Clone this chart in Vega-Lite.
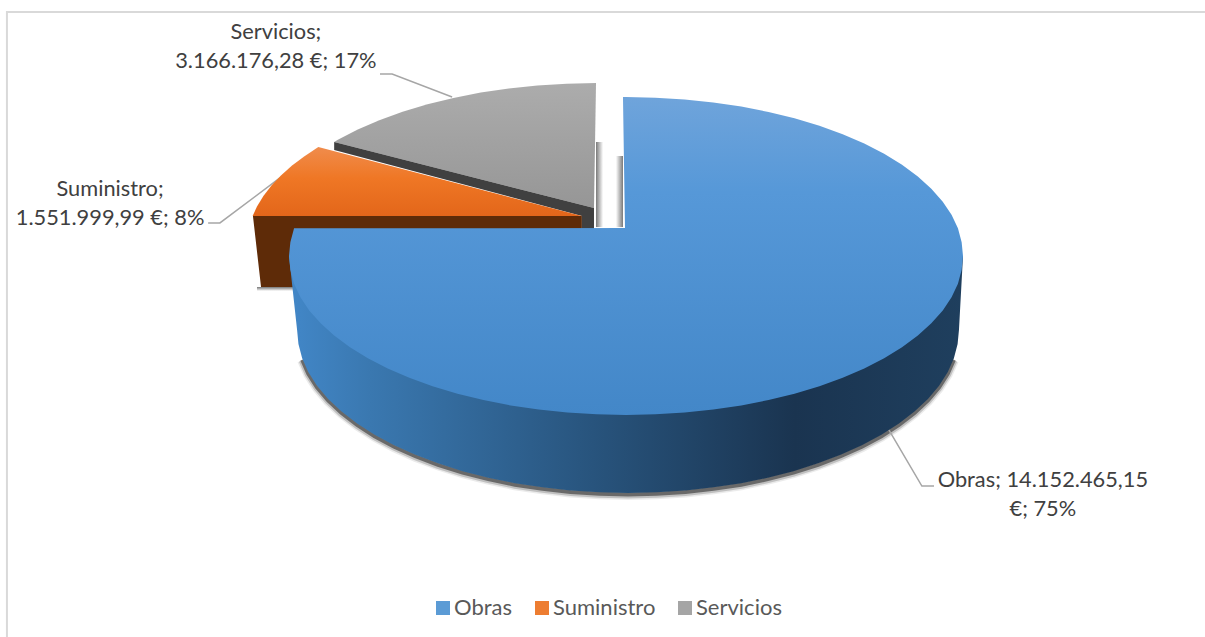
{"$schema":"https://vega.github.io/schema/vega-lite/v6.json","width":1205,"height":637,"autosize":"none","padding":0,"background":"white","config":{"view":{"stroke":null},"font":"Lato"},"datasets":{"cuotas":[{"categoria":"Obras","importe":14152465.15,"pct":75,"label":"Obras; 14.152.465,15\n€; 75%","u":1.237,"v":-1.406},{"categoria":"Suministro","importe":1551999.99,"pct":8,"label":"Suministro;\n1.551.999,99 €; 8%","u":-1.531,"v":0.421},{"categoria":"Servicios","importe":3166176.28,"pct":17,"label":"Servicios;\n3.166.176,28 €; 17%","u":-1.039,"v":1.406}],"contornos":[
{"part":"frame","n":0,"u":-1.837,"v":-2.396},{"part":"frame","n":1,"u":-1.837,"v":1.535},{"part":"frame","n":2,"u":1.718,"v":1.535},
{"part":"lead_serv","n":0,"u":-0.73,"v":1.145},{"part":"lead_serv","n":1,"u":-0.694,"v":1.145},{"part":"lead_serv","n":2,"u":-0.516,"v":1.0},
{"part":"lead_sum","n":0,"u":-1.24,"v":0.208},{"part":"lead_sum","n":1,"u":-1.205,"v":0.208},{"part":"lead_sum","n":2,"u":-1.027,"v":0.491},
{"part":"lead_obras","n":0,"u":0.777,"v":-1.082},{"part":"lead_obras","n":1,"u":0.878,"v":-1.447},{"part":"lead_obras","n":2,"u":0.914,"v":-1.447},
{"part":"shade_gray","n":0,"u":-0.089,"v":0.717},{"part":"shade_gray","n":1,"u":-0.068,"v":0.717},{"part":"shade_gray","n":2,"u":-0.068,"v":0.182},{"part":"shade_gray","n":3,"u":-0.089,"v":0.182},
{"part":"shade_blue","n":0,"u":-0.03,"v":0.629},{"part":"shade_blue","n":1,"u":-0.009,"v":0.629},{"part":"shade_blue","n":2,"u":-0.009,"v":0.182},{"part":"shade_blue","n":3,"u":-0.03,"v":0.182},
{"part":"shade_orange","n":0,"u":-1.095,"v":-0.195},{"part":"shade_orange","n":1,"u":-0.979,"v":-0.195},{"part":"shade_orange","n":2,"u":-0.979,"v":-0.22},{"part":"shade_orange","n":3,"u":-1.095,"v":-0.22},
{"part":"gray_top","n":0,"u":-0.089,"v":1.088},{"part":"gray_top","n":1,"u":-0.176,"v":1.084},{"part":"gray_top","n":2,"u":-0.263,"v":1.073},{"part":"gray_top","n":3,"u":-0.348,"v":1.054},{"part":"gray_top","n":4,"u":-0.431,"v":1.028},{"part":"gray_top","n":5,"u":-0.512,"v":0.994},{"part":"gray_top","n":6,"u":-0.589,"v":0.954},{"part":"gray_top","n":7,"u":-0.663,"v":0.907},{"part":"gray_top","n":8,"u":-0.732,"v":0.854},{"part":"gray_top","n":9,"u":-0.796,"v":0.795},{"part":"gray_top","n":10,"u":-0.855,"v":0.731},{"part":"gray_top","n":11,"u":-0.866,"v":0.717},{"part":"gray_top","n":12,"u":-0.095,"v":0.302},
{"part":"gray_side","n":0,"u":-0.866,"v":0.717},{"part":"gray_side","n":1,"u":-0.095,"v":0.302},{"part":"gray_side","n":2,"u":-0.095,"v":0.164},{"part":"gray_side","n":3,"u":-0.131,"v":0.164},{"part":"gray_side","n":4,"u":-0.131,"v":0.252},{"part":"gray_side","n":5,"u":-0.866,"v":0.667},
{"part":"orange_side","n":0,"u":-1.107,"v":0.252},{"part":"orange_side","n":1,"u":-0.131,"v":0.252},{"part":"orange_side","n":2,"u":-0.131,"v":0.151},{"part":"orange_side","n":3,"u":-0.908,"v":0.151},{"part":"orange_side","n":4,"u":-0.908,"v":-0.195},{"part":"orange_side","n":5,"u":-1.083,"v":-0.195},
{"part":"orange_top","n":0,"u":-0.913,"v":0.685},{"part":"orange_top","n":1,"u":-0.954,"v":0.628},{"part":"orange_top","n":2,"u":-0.991,"v":0.569},{"part":"orange_top","n":3,"u":-1.024,"v":0.507},{"part":"orange_top","n":4,"u":-1.052,"v":0.444},{"part":"orange_top","n":5,"u":-1.076,"v":0.378},{"part":"orange_top","n":6,"u":-1.095,"v":0.311},{"part":"orange_top","n":7,"u":-1.108,"v":0.251},{"part":"orange_top","n":8,"u":-0.131,"v":0.252},
{"part":"blue_side","n":0,"u":1.0,"v":0},{"part":"blue_side","n":1,"u":0.988,"v":-0.465},{"part":"blue_side","n":2,"u":0.984,"v":-0.554},{"part":"blue_side","n":3,"u":0.973,"v":-0.643},{"part":"blue_side","n":4,"u":0.955,"v":-0.73},{"part":"blue_side","n":5,"u":0.929,"v":-0.816},{"part":"blue_side","n":6,"u":0.896,"v":-0.899},{"part":"blue_side","n":7,"u":0.856,"v":-0.978},{"part":"blue_side","n":8,"u":0.81,"v":-1.053},{"part":"blue_side","n":9,"u":0.758,"v":-1.124},{"part":"blue_side","n":10,"u":0.7,"v":-1.19},{"part":"blue_side","n":11,"u":0.637,"v":-1.25},{"part":"blue_side","n":12,"u":0.57,"v":-1.304},{"part":"blue_side","n":13,"u":0.497,"v":-1.353},{"part":"blue_side","n":14,"u":0.421,"v":-1.394},{"part":"blue_side","n":15,"u":0.342,"v":-1.429},{"part":"blue_side","n":16,"u":0.26,"v":-1.455},{"part":"blue_side","n":17,"u":0.177,"v":-1.475},{"part":"blue_side","n":18,"u":0.091,"v":-1.486},{"part":"blue_side","n":19,"u":0.006,"v":-1.49},{"part":"blue_side","n":20,"u":-0.079,"v":-1.486},{"part":"blue_side","n":21,"u":-0.165,"v":-1.475},{"part":"blue_side","n":22,"u":-0.248,"v":-1.455},{"part":"blue_side","n":23,"u":-0.33,"v":-1.429},{"part":"blue_side","n":24,"u":-0.409,"v":-1.394},{"part":"blue_side","n":25,"u":-0.485,"v":-1.353},{"part":"blue_side","n":26,"u":-0.558,"v":-1.304},{"part":"blue_side","n":27,"u":-0.625,"v":-1.25},{"part":"blue_side","n":28,"u":-0.688,"v":-1.19},{"part":"blue_side","n":29,"u":-0.746,"v":-1.124},{"part":"blue_side","n":30,"u":-0.798,"v":-1.053},{"part":"blue_side","n":31,"u":-0.844,"v":-0.978},{"part":"blue_side","n":32,"u":-0.884,"v":-0.899},{"part":"blue_side","n":33,"u":-0.917,"v":-0.816},{"part":"blue_side","n":34,"u":-0.943,"v":-0.73},{"part":"blue_side","n":35,"u":-0.961,"v":-0.643},{"part":"blue_side","n":36,"u":-0.972,"v":-0.554},{"part":"blue_side","n":37,"u":-0.976,"v":-0.465},{"part":"blue_side","n":38,"u":-1.0,"v":0},
{"part":"blue_top","n":0,"u":-0.009,"v":1.0},{"part":"blue_top","n":1,"u":0,"v":1.0},{"part":"blue_top","n":2,"u":0.087,"v":0.996},{"part":"blue_top","n":3,"u":0.174,"v":0.985},{"part":"blue_top","n":4,"u":0.259,"v":0.966},{"part":"blue_top","n":5,"u":0.342,"v":0.94},{"part":"blue_top","n":6,"u":0.423,"v":0.906},{"part":"blue_top","n":7,"u":0.5,"v":0.866},{"part":"blue_top","n":8,"u":0.574,"v":0.819},{"part":"blue_top","n":9,"u":0.643,"v":0.766},{"part":"blue_top","n":10,"u":0.707,"v":0.707},{"part":"blue_top","n":11,"u":0.766,"v":0.643},{"part":"blue_top","n":12,"u":0.819,"v":0.574},{"part":"blue_top","n":13,"u":0.866,"v":0.5},{"part":"blue_top","n":14,"u":0.906,"v":0.423},{"part":"blue_top","n":15,"u":0.94,"v":0.342},{"part":"blue_top","n":16,"u":0.966,"v":0.259},{"part":"blue_top","n":17,"u":0.985,"v":0.174},{"part":"blue_top","n":18,"u":0.996,"v":0.087},{"part":"blue_top","n":19,"u":1.0,"v":0},{"part":"blue_top","n":20,"u":0.996,"v":-0.087},{"part":"blue_top","n":21,"u":0.985,"v":-0.174},{"part":"blue_top","n":22,"u":0.966,"v":-0.259},{"part":"blue_top","n":23,"u":0.94,"v":-0.342},{"part":"blue_top","n":24,"u":0.906,"v":-0.423},{"part":"blue_top","n":25,"u":0.866,"v":-0.5},{"part":"blue_top","n":26,"u":0.819,"v":-0.574},{"part":"blue_top","n":27,"u":0.766,"v":-0.643},{"part":"blue_top","n":28,"u":0.707,"v":-0.707},{"part":"blue_top","n":29,"u":0.643,"v":-0.766},{"part":"blue_top","n":30,"u":0.574,"v":-0.819},{"part":"blue_top","n":31,"u":0.5,"v":-0.866},{"part":"blue_top","n":32,"u":0.423,"v":-0.906},{"part":"blue_top","n":33,"u":0.342,"v":-0.94},{"part":"blue_top","n":34,"u":0.259,"v":-0.966},{"part":"blue_top","n":35,"u":0.174,"v":-0.985},{"part":"blue_top","n":36,"u":0.087,"v":-0.996},{"part":"blue_top","n":37,"u":0,"v":-1.0},{"part":"blue_top","n":38,"u":-0.087,"v":-0.996},{"part":"blue_top","n":39,"u":-0.174,"v":-0.985},{"part":"blue_top","n":40,"u":-0.259,"v":-0.966},{"part":"blue_top","n":41,"u":-0.342,"v":-0.94},{"part":"blue_top","n":42,"u":-0.423,"v":-0.906},{"part":"blue_top","n":43,"u":-0.5,"v":-0.866},{"part":"blue_top","n":44,"u":-0.574,"v":-0.819},{"part":"blue_top","n":45,"u":-0.643,"v":-0.766},{"part":"blue_top","n":46,"u":-0.707,"v":-0.707},{"part":"blue_top","n":47,"u":-0.766,"v":-0.643},{"part":"blue_top","n":48,"u":-0.819,"v":-0.574},{"part":"blue_top","n":49,"u":-0.866,"v":-0.5},{"part":"blue_top","n":50,"u":-0.906,"v":-0.423},{"part":"blue_top","n":51,"u":-0.94,"v":-0.342},{"part":"blue_top","n":52,"u":-0.966,"v":-0.259},{"part":"blue_top","n":53,"u":-0.985,"v":-0.174},{"part":"blue_top","n":54,"u":-0.996,"v":-0.087},{"part":"blue_top","n":55,"u":-1.0,"v":0},{"part":"blue_top","n":56,"u":-0.996,"v":0.087},{"part":"blue_top","n":57,"u":-0.985,"v":0.174},{"part":"blue_top","n":58,"u":-0.003,"v":0.176}
]},
"encoding":{"x":{"field":"u","type":"quantitative","axis":null,"scale":{"domain":[-1.8576,1.7181],"nice":false,"zero":false}},"y":{"field":"v","type":"quantitative","axis":null,"scale":{"domain":[-2.3962,1.6101],"nice":false,"zero":false}},"order":{"field":"n","type":"quantitative"}},
"layer":[
{"data":{"name":"contornos"},"transform":[{"filter":"datum.part==='frame'"}],"mark":{"type":"line","stroke":"#D9D9D9","strokeWidth":2}},
{"data":{"name":"contornos"},"transform":[{"filter":"datum.part==='blue_side'&&datum.n>=3&&datum.n<=35"}],"mark":{"type":"line","stroke":"#000000","strokeOpacity":0.08,"strokeWidth":10,"yOffset":2}},
{"data":{"name":"contornos"},"transform":[{"filter":"datum.part==='blue_side'&&datum.n>=3&&datum.n<=35"}],"mark":{"type":"line","stroke":"#000000","strokeOpacity":0.18,"strokeWidth":7,"yOffset":2}},
{"data":{"name":"contornos"},"transform":[{"filter":"datum.part==='blue_side'&&datum.n>=3&&datum.n<=35"}],"mark":{"type":"line","stroke":"#000000","strokeOpacity":0.45,"strokeWidth":4,"yOffset":1.5}},
{"data":{"name":"contornos"},"transform":[{"filter":"datum.part==='lead_serv'"}],"mark":{"type":"line","stroke":"#A6A6A6","strokeWidth":1.5}},
{"data":{"name":"contornos"},"transform":[{"filter":"datum.part==='lead_sum'"}],"mark":{"type":"line","stroke":"#A6A6A6","strokeWidth":1.5}},
{"data":{"name":"contornos"},"transform":[{"filter":"datum.part==='lead_obras'"}],"mark":{"type":"line","stroke":"#A6A6A6","strokeWidth":1.5}},
{"data":{"name":"contornos"},"transform":[{"filter":"datum.part==='shade_gray'"}],"mark":{"type":"line","strokeWidth":0,"fill":{"gradient":"linear","x1":0,"y1":0,"x2":1,"y2":0,"stops":[{"offset":0,"color":"#7A7A7A"},{"offset":1,"color":"#FFFFFF"}]}}},
{"data":{"name":"contornos"},"transform":[{"filter":"datum.part==='shade_blue'"}],"mark":{"type":"line","strokeWidth":0,"fill":{"gradient":"linear","x1":0,"y1":0,"x2":1,"y2":0,"stops":[{"offset":0,"color":"#FFFFFF"},{"offset":1,"color":"#7A7A7A"}]}}},
{"data":{"name":"contornos"},"transform":[{"filter":"datum.part==='shade_orange'"}],"mark":{"type":"line","strokeWidth":0,"fill":{"gradient":"linear","x1":0,"y1":0,"x2":0,"y2":1,"stops":[{"offset":0,"color":"#777777"},{"offset":1,"color":"#FFFFFF"}]}}},
{"data":{"name":"contornos"},"transform":[{"filter":"datum.part==='gray_top'"}],"mark":{"type":"line","strokeWidth":0,"fill":{"gradient":"linear","x1":0,"y1":0,"x2":0,"y2":1,"stops":[{"offset":0,"color":"#ACACAC"},{"offset":1,"color":"#969696"}]}}},
{"data":{"name":"contornos"},"transform":[{"filter":"datum.part==='gray_side'"}],"mark":{"type":"line","strokeWidth":0,"fill":"#404040"}},
{"data":{"name":"contornos"},"transform":[{"filter":"datum.part==='orange_side'"}],"mark":{"type":"line","strokeWidth":0,"fill":"#5E2B08"}},
{"data":{"name":"contornos"},"transform":[{"filter":"datum.part==='orange_top'"}],"mark":{"type":"line","strokeWidth":0,"fill":{"gradient":"linear","x1":0,"y1":0,"x2":0,"y2":1,"stops":[{"offset":0,"color":"#F08C4C"},{"offset":0.45,"color":"#EF7725"},{"offset":1,"color":"#E3661A"}]}}},
{"data":{"name":"contornos"},"transform":[{"filter":"datum.part==='blue_side'"}],"mark":{"type":"line","strokeWidth":0,"fill":{"gradient":"linear","x1":0,"y1":0,"x2":1,"y2":0,"stops":[{"offset":0,"color":"#4287C8"},{"offset":0.12,"color":"#3A78B0"},{"offset":0.45,"color":"#28547D"},{"offset":0.75,"color":"#1A3450"},{"offset":1,"color":"#1F3F5E"}]}}},
{"data":{"name":"contornos"},"transform":[{"filter":"datum.part==='blue_top'"}],"mark":{"type":"line","strokeWidth":0,"fill":{"gradient":"linear","x1":0,"y1":0,"x2":0,"y2":1,"stops":[{"offset":0,"color":"#6FA4DB"},{"offset":0.3,"color":"#5698D8"},{"offset":1,"color":"#4387C8"}]}}},
{"data":{"name":"cuotas"},"mark":{"type":"text","font":"Lato","fontSize":21.8,"color":"#404040","align":"center","baseline":"middle","lineBreak":"\n","lineHeight":29},"encoding":{"text":{"field":"label"},"order":null}},
{"data":{"name":"cuotas"},"mark":{"type":"square","opacity":0},"encoding":{"order":null,"color":{"field":"categoria","type":"nominal","sort":["Obras","Suministro","Servicios"],"scale":{"domain":["Obras","Suministro","Servicios"],"range":["#5B9BD5","#ED7D31","#A5A5A5"]},"legend":{"orient":"none","legendX":432,"legendY":597,"direction":"horizontal","title":null,"symbolType":"square","symbolSize":196,"symbolOpacity":1,"symbolStrokeWidth":0,"labelFont":"Lato","labelFontSize":22,"labelColor":"#595959","labelOffset":0,"columnPadding":18,"padding":0}}}}
]}
